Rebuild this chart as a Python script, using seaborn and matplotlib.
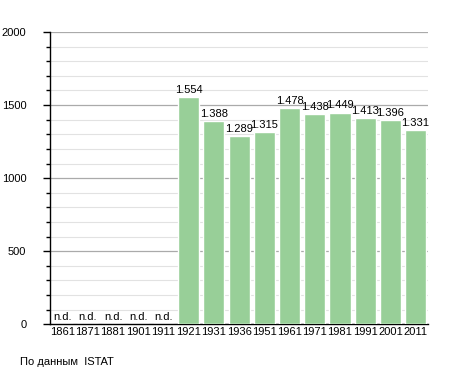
import numpy as np
import matplotlib
matplotlib.use('Agg')
import matplotlib.pyplot as plt
import pandas as pd
import seaborn as sns

sns.set_style("white")
plt.rcParams['font.family'] = ['Liberation Sans', 'DejaVu Sans']
plt.rcParams['text.color'] = 'black'
plt.rcParams['xtick.color'] = 'black'
plt.rcParams['ytick.color'] = 'black'

years = ['1861', '1871', '1881', '1901', '1911', '1921', '1931', '1936',
         '1951', '1961', '1971', '1981', '1991', '2001', '2011']
population = [None, None, None, None, None, 1554, 1388, 1289, 1315,
              1478, 1438, 1449, 1413, 1396, 1331]

df = pd.DataFrame({'year': years, 'pop': [0 if v is None else v for v in population]})

fig = plt.figure(figsize=(4.55, 3.73), dpi=100)
ax = fig.add_axes([0.110, 0.131, 0.831, 0.783])

sns.barplot(data=df, x='year', y='pop', color='#98cf98', saturation=1,
            width=0.84, ax=ax, zorder=3)

ax.set_ylim(0, 2000)
ax.set_xlim(-0.5, len(years) - 0.5)
ax.set_yticks(np.arange(0, 2001, 500))
ax.set_yticks(np.arange(0, 2001, 100), minor=True)
ax.yaxis.grid(True, which='major', color='#aaaaaa', linewidth=0.9, zorder=0)
ax.yaxis.grid(True, which='minor', color='#e2e2e2', linewidth=0.8, zorder=0)
ax.set_axisbelow(True)

for s in ['top', 'right']:
    ax.spines[s].set_visible(False)
ax.spines['left'].set_color('black')
ax.spines['bottom'].set_color('black')
ax.spines['left'].set_linewidth(1.0)
ax.spines['bottom'].set_linewidth(1.0)

ax.tick_params(axis='y', which='major', length=5, width=1, direction='out',
               labelsize=8, pad=12, left=True)
ax.tick_params(axis='y', which='minor', length=3, width=1, direction='out', left=True)
ax.tick_params(axis='x', length=0, labelsize=8, pad=2)
ax.set_xlabel('')
ax.set_ylabel('')

for i, v in enumerate(population):
    if v is None:
        ax.text(i, 12, 'n.d.', ha='center', va='bottom', fontsize=8)
    else:
        label = '{:,}'.format(v).replace(',', '.')
        ax.text(i, v + 15, label, ha='center', va='bottom', fontsize=8)

fig.text(20 / 455, 1 - 362 / 373, 'По данным  ISTAT', fontsize=8,
         ha='left', va='center')

plt.savefig('out.png', dpi=100)
plt.close()
